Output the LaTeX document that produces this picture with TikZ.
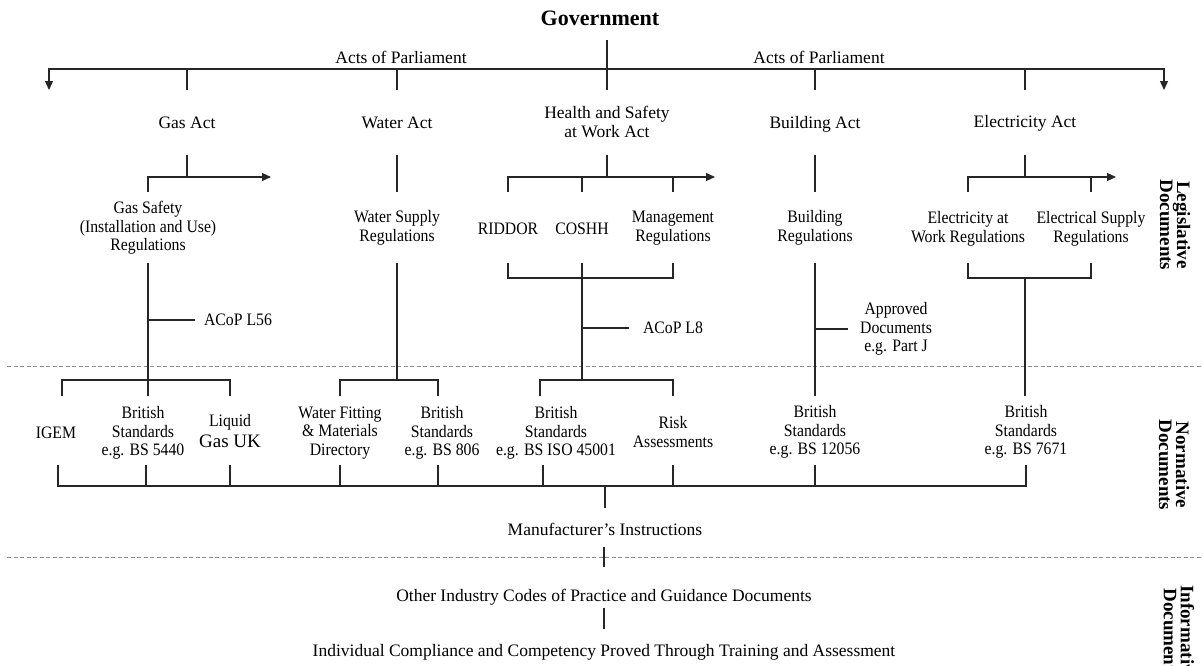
\documentclass[tikz,border=0pt]{standalone}
\usepackage{fontspec}
\setmainfont{Liberation Serif}
\newfontfamily\condensed[FakeStretch=0.9]{Liberation Serif}
\usetikzlibrary{arrows.meta}

\begin{document}
\begin{tikzpicture}[x=1pt,y=-1pt,
  wide/.style={font=\fontsize{17.5}{18.5}\selectfont, align=center, inner sep=0pt},
  narrow/.style={font=\condensed\fontsize{17.5}{18.5}\selectfont, align=center, inner sep=0pt},
  side/.style={font=\bfseries\fontsize{19}{17}\selectfont, align=center, inner sep=0pt, rotate=-90},
  link/.style={line width=1.1pt, draw=black!85},
  arrowlink/.style={link, -{Triangle[length=9pt,width=8pt]}},
  arrowboth/.style={link, {Triangle[length=9pt,width=8pt]}-{Triangle[length=9pt,width=8pt]}},
  divider/.style={draw=black!45, line width=0.8pt, dash pattern=on 4pt off 2.5pt}]

\useasboundingbox (0,0) rectangle (1203,665);
\clip (0,0) rectangle (1203,665);

% ---------- horizontal levels ----------
\coordinate (yGov)    at (0,40);
\coordinate (yHub)    at (0,69);
\coordinate (yTick)   at (0,90);
\coordinate (yAct)    at (0,155);
\coordinate (yBar)    at (0,177);
\coordinate (yDrop)   at (0,192);
\coordinate (yReg)    at (0,263);
\coordinate (yBrk)    at (0,278);
\coordinate (yNBar)   at (0,380);
\coordinate (yNTop)   at (0,396);
\coordinate (yNLo)    at (0,465);
\coordinate (yBase)   at (0,486);
\coordinate (yBaseLo) at (0,508);
\coordinate (yManLo)  at (0,547);
\coordinate (yOthHi)  at (0,567);
\coordinate (yOthLo)  at (0,608);
\coordinate (yIndHi)  at (0,629);

% ---------- extra columns ----------
\coordinate (xL)      at (49,0);
\coordinate (xR)      at (1164,0);
\coordinate (xGasTip) at (271,0);
\coordinate (xHsTip)  at (715,0);
\coordinate (xElTip)  at (1116,0);
\coordinate (xIgemT)  at (62,0);
\coordinate (xIgemB)  at (58,0);
\coordinate (xBsGasB) at (146,0);
\coordinate (xBsWat)  at (438,0);
\coordinate (xIsoT)   at (540,0);
\coordinate (xIsoB)   at (543,0);

% ---------- titles ----------
\node[font=\bfseries\fontsize{22}{24}\selectfont, inner sep=0pt] (gov) at (600,18) {Government};
\node[wide] (aop1) at (401,57) {Acts of Parliament};
\node[wide] (aop2) at (819,57) {Acts of Parliament};

% ---------- acts ----------
\node[wide] (gasact)   at (187,123) {Gas Act};
\node[wide] (wateract) at (397,123) {Water Act};
\node[wide] (hswa)     at (607,122) {Health and Safety\\at Work Act};
\node[wide] (buildact) at (815,124) {Building Act};
\node[wide] (elecact)  at (1025,123) {Electricity Act};

% ---------- regulations ----------
\node[narrow] (gsiur)    at (148,228) {Gas Safety\\(Installation and Use)\\Regulations};
\node[narrow] (wsr)      at (397,228) {Water Supply\\Regulations};
\node[narrow] (riddor)   at (508,229) {RIDDOR};
\node[narrow] (coshh)    at (582,229) {COSHH};
\node[narrow] (mgmt)     at (673,228) {Management\\Regulations};
\node[narrow] (buildreg) at (815,228) {Building\\Regulations};
\node[narrow] (eawr)     at (968,229) {Electricity at\\Work Regulations};
\node[narrow] (esr)      at (1091,229) {Electrical Supply\\Regulations};

\node[narrow] (acopl56)  at (238,320) {ACoP L56};
\node[narrow] (acopl8)   at (673,328) {ACoP L8};
\node[narrow] (approved) at (896,329) {Approved\\Documents\\e.g. Part J};

% ---------- normative documents ----------
\node[narrow] (igem)    at (56,433)  {IGEM};
\node[narrow] (bs5440)  at (143,433) {British\\Standards\\e.g. BS 5440};
\node[narrow] (lguk)    at (230,431) {Liquid\\[3pt]{\rmfamily\fontsize{19}{21}\selectfont Gas UK}};
\node[narrow] (wfmd)    at (340,433) {Water Fitting\\\& Materials\\Directory};
\node[narrow] (bs806)   at (442,433) {British\\Standards\\e.g. BS 806};
\node[narrow] (bs45001) at (556,433) {British\\Standards\\e.g. BS ISO 45001};
\node[narrow] (risk)    at (673,432) {Risk\\Assessments};
\node[narrow] (bs12056) at (815,432) {British\\Standards\\e.g. BS 12056};
\node[narrow] (bs7671)  at (1026,432) {British\\Standards\\e.g. BS 7671};

% ---------- informative documents ----------
\node[wide] (manuf) at (605,529) {Manufacturer’s Instructions};
\node[wide] (other) at (604,597) {Other Industry Codes of Practice and Guidance Documents};
\node[wide] (indiv) at (604,652) {Individual Compliance and Competency Proved Through Training and Assessment};

% ---------- side labels ----------
\node[side] (legis) at (1175,225) {Legislative\\Documents};
\node[side] (norm)  at (1174,465) {Normative\\Documents};
\node[side, anchor=west] (info) at (1179,585) {Informative\\Documents};

% ---------- band dividers ----------
\draw[divider] (7,366) -- (1203,366);
\draw[divider] (7,557) -- (1203,557);

% ---------- government to acts ----------
\draw[link] (hswa |- yGov) -- (hswa |- yTick);
\draw[arrowboth] (xL |- yTick) -- (xL |- yHub) -- (xR |- yHub) -- (xR |- yTick);
\foreach \n in {gasact,wateract,buildact,elecact}
  \draw[link] (\n |- yHub) -- (\n |- yTick);

% ---------- acts to regulations ----------
\draw[link] (gasact |- yAct) -- (gasact |- yBar);
\draw[arrowlink] (gsiur |- yDrop) -- (gsiur |- yBar) -- (xGasTip |- yBar);

\draw[link] (wateract |- yAct) -- (wateract |- yDrop);

\draw[link] (hswa |- yAct) -- (hswa |- yBar);
\draw[arrowlink] (riddor |- yDrop) -- (riddor |- yBar) -- (xHsTip |- yBar);
\foreach \n in {coshh,mgmt}
  \draw[link] (\n |- yBar) -- (\n |- yDrop);

\draw[link] (buildact |- yAct) -- (buildact |- yDrop);

\draw[link] (elecact |- yAct) -- (elecact |- yBar);
\draw[arrowlink] (eawr |- yDrop) -- (eawr |- yBar) -- (xElTip |- yBar);
\draw[link] (esr |- yBar) -- (esr |- yDrop);

% ---------- regulations to normative documents ----------
\draw[link] (gsiur |- yReg) -- (gsiur |- yNTop);
\draw[link] (gsiur |- acopl56) -- ([xshift=-9pt]acopl56.west);
\draw[link] (xIgemT |- yNTop) -- (xIgemT |- yNBar) -- (lguk |- yNBar) -- (lguk |- yNTop);

\draw[link] (wsr |- yReg) -- (wsr |- yNBar);
\draw[link] (wfmd |- yNTop) -- (wfmd |- yNBar) -- (xBsWat |- yNBar) -- (xBsWat |- yNTop);

\draw[link] (riddor |- yReg) -- (riddor |- yBrk) -- (mgmt |- yBrk) -- (mgmt |- yReg);
\draw[link] (coshh |- yReg) -- (coshh |- yNBar);
\draw[link] (coshh |- acopl8) -- ([xshift=-14pt]acopl8.west);
\draw[link] (xIsoT |- yNTop) -- (xIsoT |- yNBar) -- (risk |- yNBar) -- (risk |- yNTop);

\draw[link] (buildreg |- yReg) -- (buildreg |- yNTop);
\draw[link] (buildreg |- approved) -- ([xshift=-12pt]approved.west);

\draw[link] (eawr |- yReg) -- (eawr |- yBrk) -- (esr |- yBrk) -- (esr |- yReg);
\draw[link] (elecact |- yBrk) -- (elecact |- yNTop);

% ---------- normative documents to manufacturer's instructions ----------
\draw[link] (xIgemB |- yNLo) -- (xIgemB |- yBase) -- (bs7671 |- yBase) -- (bs7671 |- yNLo);
\foreach \n in {xBsGasB,lguk,wfmd,xBsWat,xIsoB,risk,bs12056}
  \draw[link] (\n |- yNLo) -- (\n |- yBase);
\draw[link] (manuf |- yBase) -- (manuf |- yBaseLo);

% ---------- informative chain ----------
\draw[link] (other |- yManLo) -- (other |- yOthHi);
\draw[link] (other |- yOthLo) -- (indiv |- yIndHi);

\end{tikzpicture}
\end{document}
